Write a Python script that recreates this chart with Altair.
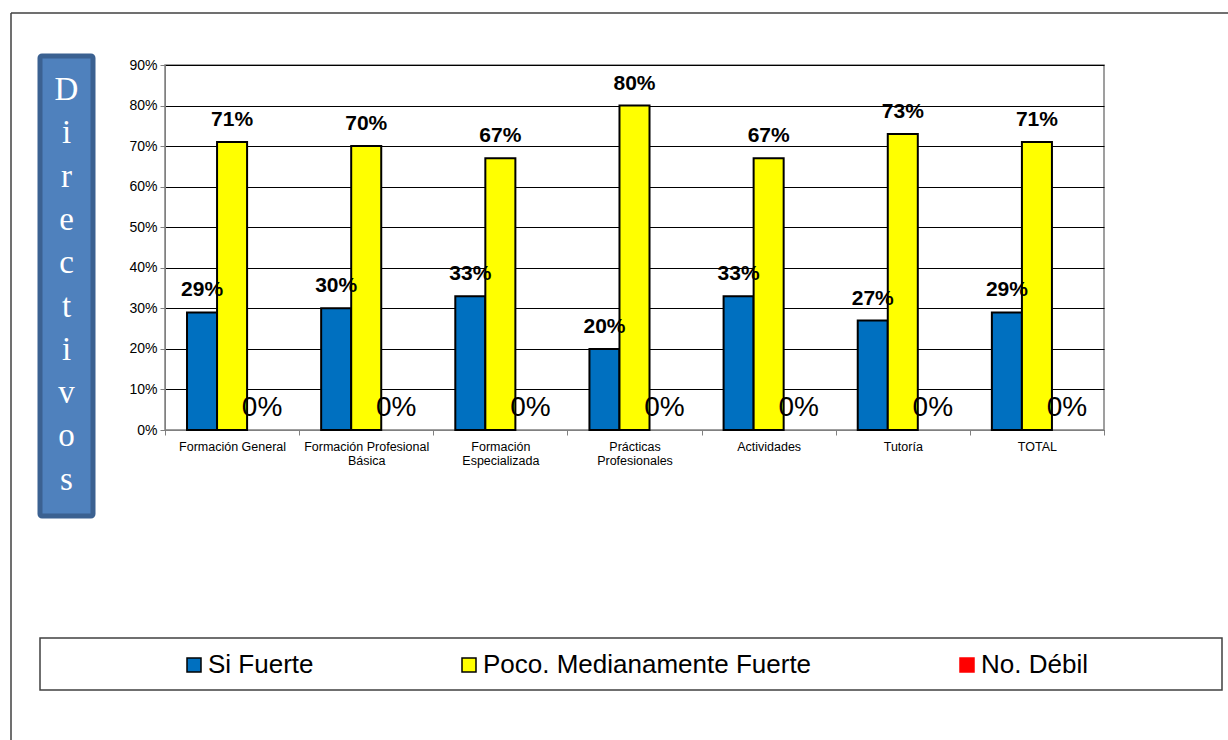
import altair as alt
import pandas as pd

# Categories (line breaks mark where axis labels wrap)
categories = [
    "Formación General",
    "Formación Profesional\nBásica",
    "Formación\nEspecializada",
    "Prácticas\nProfesionales",
    "Actividades",
    "Tutoría",
    "TOTAL",
]
series = ["Si Fuerte", "Poco. Medianamente Fuerte", "No. Débil"]

# Percent values per series
si_fuerte = [29, 30, 33, 20, 33, 27, 29]
poco_medianamente = [71, 70, 67, 80, 67, 73, 71]
no_debil = [0, 0, 0, 0, 0, 0, 0]

fill_colors = ["#0070C0", "#FFFF00", "#FF0000"]
stroke_colors = ["#000000", "#000000", "#FF0000"]

rows = []
for values, name in zip([si_fuerte, poco_medianamente, no_debil], series):
    for cat, v in zip(categories, values):
        rows.append({"category": cat, "series": name, "pct": v,
                     "frac": v / 100.0, "label": f"{v}%"})
df = pd.DataFrame(rows)

W, H = 939, 365
FONT = "Liberation Sans"

x_enc = alt.X(
    "category:N", sort=categories, title=None,
    scale=alt.Scale(paddingInner=0, paddingOuter=0),
    axis=alt.Axis(labelExpr="split(datum.label, '\\n')", labelAngle=0,
                  labelFontSize=12.5, labelFont=FONT, labelColor="#000000",
                  labelPadding=5, labelLineHeight=14, labelLimit=200,
                  tickBand="extent", tickSize=5, tickColor="#808080",
                  domainColor="#808080", grid=False),
)
xoff_enc = alt.XOffset(
    "series:N", sort=series,
    scale=alt.Scale(domain=series, paddingInner=0, paddingOuter=0.733),
)
y_enc = alt.Y(
    "frac:Q", title=None,
    scale=alt.Scale(domain=[0, 0.9], nice=False),
    axis=alt.Axis(format=".0%", values=[i / 10 for i in range(10)],
                  labelFontSize=14, labelFont=FONT, labelColor="#000000",
                  labelPadding=3, tickSize=5, tickColor="#808080",
                  domainColor="#808080", grid=True, gridColor="#000000",
                  gridWidth=1),
)

legend = alt.Legend(
    title=None, orient="none", direction="horizontal",
    legendX=16, legendY=587, padding=0,
    symbolType="square", symbolSize=196, symbolStrokeWidth=1.5,
    labelFont=FONT, labelFontSize=26, labelColor="#000000",
    labelOffset=1, columnPadding=142, labelLimit=600,
)

bars = alt.Chart(df).transform_filter("datum.pct > 0").mark_bar(
    strokeWidth=2, clip=False
).encode(
    x=x_enc,
    xOffset=xoff_enc,
    y=y_enc,
    color=alt.Color("series:N", scale=alt.Scale(domain=series, range=fill_colors),
                    legend=legend),
    stroke=alt.Stroke("series:N", scale=alt.Scale(domain=series, range=stroke_colors),
                      legend=legend),
)

value_labels = alt.Chart(df).transform_filter("datum.pct > 0").mark_text(
    font=FONT, fontSize=21, fontWeight="bold", color="#000000",
    baseline="alphabetic", dy=-16,
).encode(x=alt.X("category:N", sort=categories), xOffset=xoff_enc,
         y="frac:Q", text="label:N")

zero_labels = alt.Chart(df).transform_filter("datum.pct == 0").mark_text(
    font=FONT, fontSize=28, color="#000000", baseline="alphabetic", dy=-14,
).encode(x=alt.X("category:N", sort=categories), xOffset=xoff_enc,
         y="frac:Q", text="label:N")

# Decorations drawn around the plot: outer frame, side title box, legend frame
deco = pd.DataFrame({"k": [0]})
frame_top = alt.Chart(deco).mark_rule(color="#404040", strokeWidth=1.5, clip=False).encode(
    x=alt.value(-154), x2=alt.value(1070), y=alt.value(-52))
frame_left = alt.Chart(deco).mark_rule(color="#404040", strokeWidth=1.5, clip=False).encode(
    x=alt.value(-154), y=alt.value(-52), y2=alt.value(690))
side_box = alt.Chart(deco).mark_rect(
    fill="#4F81BD", stroke="#3B6191", strokeWidth=5, cornerRadius=2, clip=False
).encode(x=alt.value(-125), x2=alt.value(-72), y=alt.value(-9), y2=alt.value(451))
side_text = alt.Chart(deco).mark_text(
    text="D\ni\nr\ne\nc\nt\ni\nv\no\ns", lineBreak="\n", lineHeight=43.3,
    font="Liberation Serif", fontSize=33, color="#FFFFFF",
    align="center", baseline="middle", clip=False,
).encode(x=alt.value(-98.5), y=alt.value(25))
legend_box = alt.Chart(deco).mark_rect(
    fill="#FFFFFF", stroke="#404040", strokeWidth=1.5, clip=False
).encode(x=alt.value(-125), x2=alt.value(1057), y=alt.value(573), y2=alt.value(625))

chart = alt.layer(
    frame_top, frame_left, side_box, side_text, legend_box,
    bars, value_labels, zero_labels,
).resolve_scale(x="shared").properties(
    width=W, height=H,
    autosize=alt.AutoSizeParams(type="none"),
    padding={"left": 165, "top": 65, "right": 1228 - 165 - W, "bottom": 740 - 65 - H},
    background="#FFFFFF",
).configure_view(stroke="#808080", strokeWidth=1.5)

chart.save("out.html", embed_options={"renderer": "svg", "actions": False})
